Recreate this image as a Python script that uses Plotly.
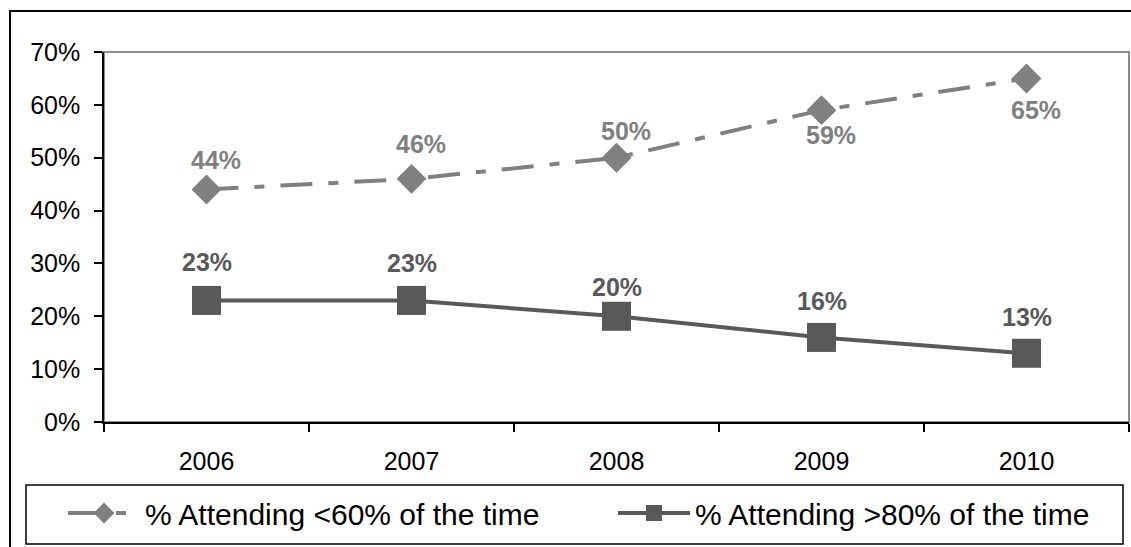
import plotly.graph_objects as go

years = ["2006", "2007", "2008", "2009", "2010"]
attending_under_60 = [44, 46, 50, 59, 65]
attending_over_80 = [23, 23, 20, 16, 13]
# vertical offset (px) of each value label from its marker centre
label_shift_under_60 = [29, 35, 27, -25, -32]
label_shift_over_80 = [38, 37, 29, 36, 36]

FONT = "Liberation Sans, Arial, sans-serif"
LIGHT = "#808080"
DARK = "#595959"

W, H = 1131, 547
ML, MR, MT, MB = 104, 2, 52, 125
PW, PH = W - ML - MR, H - MT - MB


def px_x(px):
    return (px - ML) / PW


def px_y(py):
    return (H - MB - py) / PH


fig = go.Figure()

fig.add_trace(go.Scatter(
    x=years, y=attending_under_60,
    name="% Attending <60% of the time",
    mode="lines+markers",
    line=dict(color=LIGHT, width=4, dash="32px,16px,10px,16px"),
    marker=dict(symbol="diamond", size=23, color=LIGHT),
    cliponaxis=False,
    legend="legend",
))

fig.add_trace(go.Scatter(
    x=years, y=attending_over_80,
    name="% Attending >80% of the time",
    mode="lines+markers",
    line=dict(color=DARK, width=4),
    marker=dict(symbol="square", size=29, color=DARK),
    cliponaxis=False,
    legend="legend2",
))

# value labels; x given as category index so the year strings are not read as numbers
annotations = []
for i, (v, s) in enumerate(zip(attending_under_60, label_shift_under_60)):
    annotations.append(dict(
        x=i, y=v, xref="x", yref="y", text=f"{v}%", showarrow=False,
        xanchor="center", yanchor="middle", xshift=9, yshift=s,
        font=dict(family=FONT, size=25, color=LIGHT, weight="bold"),
    ))
for i, (v, s) in enumerate(zip(attending_over_80, label_shift_over_80)):
    annotations.append(dict(
        x=i, y=v, xref="x", yref="y", text=f"{v}%", showarrow=False,
        xanchor="center", yanchor="middle", xshift=0, yshift=s,
        font=dict(family=FONT, size=25, color=DARK, weight="bold"),
    ))

shapes = [
    # plot area frame
    dict(type="rect", xref="paper", yref="paper", x0=0, x1=1, y0=0, y1=1,
         line=dict(color="#8c8c8c", width=2), layer="below"),
    # chart frame
    dict(type="rect", xref="paper", yref="paper",
         x0=px_x(10), x1=px_x(1145), y0=px_y(11), y1=px_y(560),
         line=dict(color="black", width=2)),
    # legend box
    dict(type="rect", xref="paper", yref="paper",
         x0=px_x(26), x1=px_x(1123), y0=px_y(485), y1=px_y(544),
         line=dict(color="black", width=1.5)),
]

legend_style = dict(
    orientation="h",
    xanchor="left",
    y=px_y(487), yanchor="top",
    font=dict(family=FONT, size=30, color="black"),
    itemwidth=72,
    bgcolor="rgba(0,0,0,0)",
    borderwidth=0,
)

fig.update_layout(
    width=W, height=H,
    margin=dict(l=ML, r=MR, t=MT, b=MB),
    paper_bgcolor="white", plot_bgcolor="white",
    font=dict(family=FONT, color="black"),
    shapes=shapes,
    annotations=annotations,
    showlegend=True,
    legend=dict(x=px_x(63), **legend_style),
    legend2=dict(x=px_x(613), **legend_style),
    xaxis=dict(
        type="category",
        range=[-0.5, 4.5],
        showline=True, linecolor="black", linewidth=1.5,
        ticks="outside", tickson="boundaries", ticklen=8, tickcolor="black", tickwidth=1.5,
        showgrid=False, zeroline=False,
        tickfont=dict(family=FONT, size=25, color="black"),
        ticklabelstandoff=16,
    ),
    yaxis=dict(
        range=[0, 70], dtick=10, ticksuffix="%",
        showline=True, linecolor="black", linewidth=1.5,
        ticks="outside", ticklen=8, tickcolor="black", tickwidth=1.5,
        showgrid=False, zeroline=False,
        tickfont=dict(family=FONT, size=25, color="black"),
        ticklabelstandoff=9,
    ),
)

fig.write_html("out.html")
